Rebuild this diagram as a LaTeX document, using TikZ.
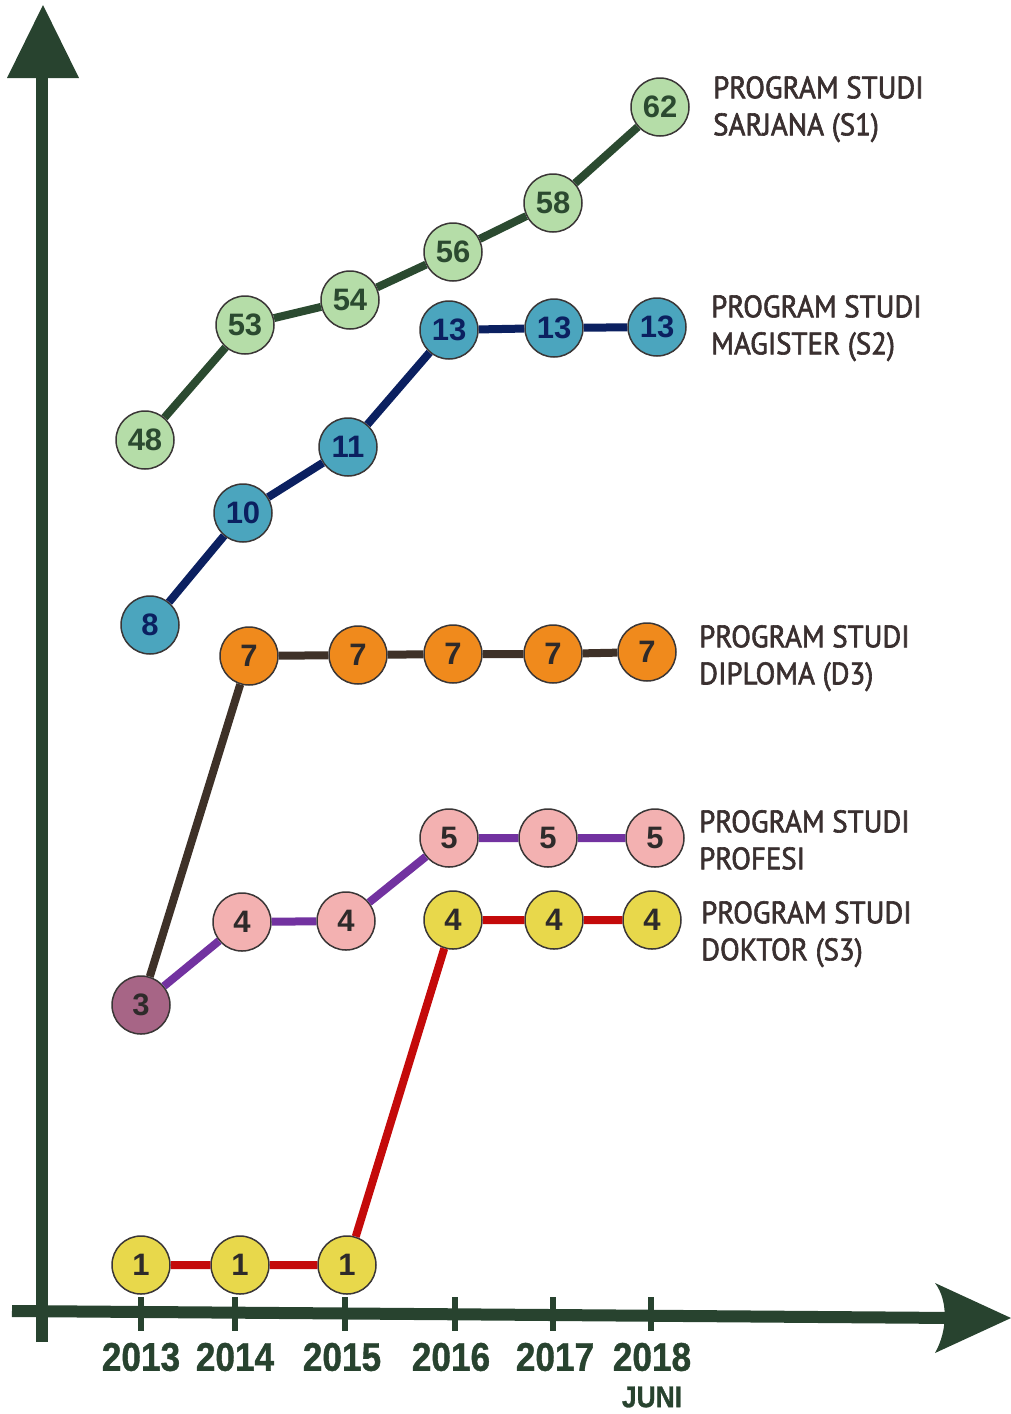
\documentclass[tikz,border=0pt]{standalone}
\usepackage{fontspec}
\setmainfont{Liberation Sans}
\newfontfamily\lblfont[FakeStretch=0.93,FakeBold=2]{PT Sans}
\newfontfamily\yearfont[FakeStretch=0.88,BoldFeatures={FakeBold=1}]{Liberation Sans}
\definecolor{axisgreen}{HTML}{28432F}
\definecolor{sgreen}{HTML}{B5DDA8}
\definecolor{sgreenline}{HTML}{2B4A30}
\definecolor{sblue}{HTML}{4BA5BE}
\definecolor{navy}{HTML}{0B2060}
\definecolor{sorange}{HTML}{F08A1C}
\definecolor{brownline}{HTML}{3E3128}
\definecolor{mauve}{HTML}{A76586}
\definecolor{spink}{HTML}{F3B1B1}
\definecolor{purpleline}{HTML}{7232A0}
\definecolor{syellow}{HTML}{E8D84B}
\definecolor{redline}{HTML}{C40A0A}
\definecolor{circborder}{HTML}{3A3636}
\definecolor{txtdark}{HTML}{2E2A2A}
\definecolor{lbltxt}{HTML}{3A3030}
\begin{document}
\begin{tikzpicture}[x=1pt,y=-1pt,
  circ/.style={circle, draw=circborder, line width=1.5pt, minimum size=58pt, inner sep=0pt,
    text=txtdark, font=\fontsize{31}{31}\selectfont\bfseries},
  conn/.style={line width=8pt},
  lbl/.style={anchor=north west, align=left, inner sep=0pt, text=lbltxt,
    font=\lblfont\fontsize{31}{37}\selectfont},
  year/.style={text=axisgreen, inner sep=0pt, font=\yearfont\bfseries\fontsize{40}{40}\selectfont},
  tick/.style={draw=axisgreen, line width=6pt}
]
\useasboundingbox (0,0) rectangle (1011,1414);
% axes
\draw[axisgreen, line width=12pt] (42,1342) -- (42,70);
\fill[axisgreen] (43,5) -- (79,78) -- (7,78) -- cycle;
\draw[axisgreen, line width=12pt] (12,1311) -- (955,1318);
\fill[axisgreen] (935,1283) -- (1011,1318) -- (935,1353) .. controls (948,1330) and (948,1300) .. cycle;
% ticks
\foreach \x in {141,235,345,455,553,651} \draw[tick] (\x,1297) -- (\x,1331);
% years
\node[year] (y13) at (141,1357) {2013};
\node[year] (y14) at (235,1357) {2014};
\node[year] (y15) at (342,1357) {2015};
\node[year] (y16) at (451,1357) {2016};
\node[year] (y17) at (555,1357) {2017};
\node[year] (y18) at (652,1357) {2018};
\node[year, font=\yearfont\bfseries\fontsize{30}{30}\selectfont] (juni) at (652,1397) {JUNI};

% S1
\begin{scope}[every node/.append style={circ, fill=sgreen, text=sgreenline}]
\node (a1) at (145,440) {48};
\node (a2) at (245,325) {53};
\node (a3) at (350,300) {54};
\node (a4) at (453,252) {56};
\node (a5) at (553,203) {58};
\node (a6) at (660,107) {62};
\end{scope}
\draw[conn, sgreenline] (a1) -- (a2) -- (a3) -- (a4) -- (a5) -- (a6);
% S2
\begin{scope}[every node/.append style={circ, fill=sblue, text=navy}]
\node (b1) at (150,625) {8};
\node (b2) at (243,513) {10};
\node (b3) at (348,447) {11};
\node (b4) at (449,330) {13};
\node (b5) at (554,328) {13};
\node (b6) at (657,327) {13};
\end{scope}
\draw[conn, navy] (b1) -- (b2) -- (b3) -- (b4) -- (b5) -- (b6);
% start node 3
\node[circ, fill=mauve] (c0) at (141,1005) {3};
% D3
\begin{scope}[every node/.append style={circ, fill=sorange}]
\node (c1) at (249,656) {7};
\node (c2) at (358,655) {7};
\node (c3) at (453,654) {7};
\node (c4) at (553,654) {7};
\node (c5) at (647,652) {7};
\end{scope}
\draw[conn, brownline] (c0) -- (c1) -- (c2) -- (c3) -- (c4) -- (c5);
% Profesi
\begin{scope}[every node/.append style={circ, fill=spink}]
\node (d1) at (242,922) {4};
\node (d2) at (346,921) {4};
\node (d3) at (449,838) {5};
\node (d4) at (548,838) {5};
\node (d5) at (655,838) {5};
\end{scope}
\draw[conn, purpleline] (c0) -- (d1) -- (d2) -- (d3) -- (d4) -- (d5);
% S3
\begin{scope}[every node/.append style={circ, fill=syellow}]
\node (e1) at (141,1265) {1};
\node (e2) at (240,1265) {1};
\node (e3) at (347,1265) {1};
\node (e4) at (453,920) {4};
\node (e5) at (554,920) {4};
\node (e6) at (652,920) {4};
\end{scope}
\draw[conn, redline] (e1) -- (e2) -- (e3) -- (e4) -- (e5) -- (e6);

% labels
\node[lbl] (l1) at (713,76) {PROGRAM STUDI\\SARJANA (S1)};
\node[lbl] (l2) at (711,295) {PROGRAM STUDI\\MAGISTER (S2)};
\node[lbl] (l3) at (699,625) {PROGRAM STUDI\\DIPLOMA (D3)};
\node[lbl] (l4) at (699,810) {PROGRAM STUDI\\PROFESI};
\node[lbl] (l5) at (701,901) {PROGRAM STUDI\\DOKTOR (S3)};
\end{tikzpicture}
\end{document}
